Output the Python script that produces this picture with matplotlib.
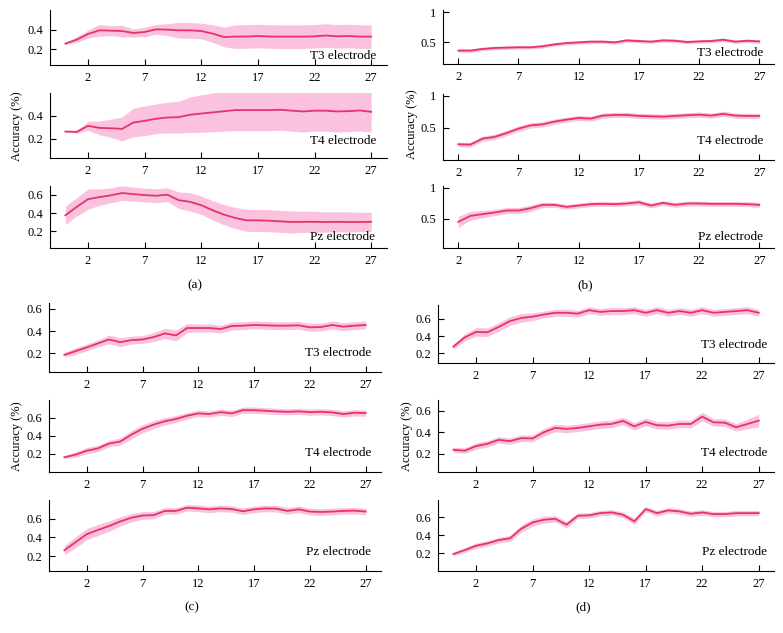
import matplotlib
matplotlib.use("Agg")
import matplotlib.pyplot as plt
import numpy as np

plt.rcParams['font.family'] = ['Liberation Serif', 'DejaVu Serif']

# ---------------- data ----------------
x_full = list(range(0, 28))
x_b = list(range(2, 28))
xtick_vals = [2, 7, 12, 17, 22, 27]
xtick_labels = ['2', '7', '12', '17', '22', '27']
electrodes = ['T3 electrode', 'T4 electrode', 'Pz electrode']
panel_labels = ['(a)', '(b)', '(c)', '(d)']

a_t3_mean = [0.258, 0.298, 0.356, 0.393, 0.390, 0.386, 0.366, 0.376, 0.403, 0.400, 0.393, 0.393, 0.386, 0.360,
             0.325, 0.329, 0.330, 0.335, 0.330, 0.329, 0.329, 0.329, 0.332, 0.340, 0.332, 0.335, 0.329, 0.329]
a_t3_std = [0.01, 0.03, 0.04, 0.06, 0.05, 0.06, 0.04, 0.05, 0.05, 0.06, 0.08, 0.08, 0.08, 0.09,
            0.10, 0.12, 0.12, 0.12, 0.12, 0.12, 0.12, 0.12, 0.12, 0.12, 0.12, 0.12, 0.12, 0.12]
a_t4_mean = [0.262, 0.259, 0.312, 0.294, 0.291, 0.285, 0.341, 0.356, 0.374, 0.385, 0.388, 0.409, 0.420, 0.430,
             0.440, 0.450, 0.450, 0.450, 0.450, 0.453, 0.445, 0.438, 0.445, 0.445, 0.438, 0.441, 0.447, 0.435]
a_t4_std = [0.005, 0.01, 0.04, 0.06, 0.08, 0.105, 0.125, 0.13, 0.13, 0.135, 0.14, 0.155, 0.165, 0.17,
            0.175, 0.18, 0.18, 0.18, 0.18, 0.18, 0.18, 0.18, 0.18, 0.18, 0.18, 0.18, 0.18, 0.175]
a_pz_mean = [0.376, 0.468, 0.552, 0.574, 0.593, 0.618, 0.607, 0.596, 0.589, 0.600, 0.541, 0.523, 0.486, 0.431,
             0.383, 0.347, 0.321, 0.321, 0.317, 0.310, 0.303, 0.305, 0.305, 0.303, 0.305, 0.303, 0.303, 0.305]
a_pz_std = [0.10, 0.10, 0.11, 0.09, 0.08, 0.08, 0.075, 0.075, 0.075, 0.075, 0.09, 0.10, 0.10, 0.105,
            0.11, 0.115, 0.12, 0.12, 0.12, 0.12, 0.12, 0.115, 0.115, 0.11, 0.11, 0.11, 0.105, 0.105]

b_t3_mean = [0.356, 0.356, 0.383, 0.400, 0.406, 0.411, 0.411, 0.428, 0.461, 0.483, 0.494, 0.506, 0.506,
             0.494, 0.528, 0.517, 0.506, 0.528, 0.522, 0.500, 0.511, 0.517, 0.539, 0.506, 0.522, 0.510]
b_t3_std = [0.03, 0.03, 0.03, 0.03, 0.03, 0.03, 0.03, 0.03, 0.03, 0.03, 0.03, 0.03, 0.03,
            0.03, 0.03, 0.03, 0.03, 0.03, 0.03, 0.03, 0.03, 0.03, 0.03, 0.03, 0.03, 0.03]
b_t4_mean = [0.245, 0.240, 0.333, 0.360, 0.420, 0.490, 0.540, 0.557, 0.600, 0.630, 0.656, 0.646, 0.693,
             0.703, 0.703, 0.688, 0.682, 0.677, 0.688, 0.698, 0.708, 0.693, 0.720, 0.693, 0.688, 0.688]
b_t4_std = [0.035, 0.035, 0.04, 0.04, 0.04, 0.04, 0.04, 0.04, 0.04, 0.04, 0.04, 0.04, 0.04,
            0.04, 0.04, 0.04, 0.04, 0.04, 0.04, 0.04, 0.04, 0.04, 0.04, 0.04, 0.04, 0.04]
b_pz_mean = [0.446, 0.543, 0.571, 0.598, 0.630, 0.630, 0.668, 0.723, 0.723, 0.690, 0.712, 0.734, 0.739,
             0.734, 0.745, 0.766, 0.712, 0.755, 0.723, 0.745, 0.745, 0.739, 0.739, 0.739, 0.734, 0.723]
b_pz_std = [0.09, 0.07, 0.06, 0.05, 0.05, 0.05, 0.05, 0.045, 0.04, 0.04, 0.04, 0.04, 0.04,
            0.04, 0.04, 0.04, 0.04, 0.04, 0.04, 0.04, 0.04, 0.04, 0.04, 0.04, 0.04, 0.04]

c_t3_mean = [0.188, 0.221, 0.254, 0.290, 0.325, 0.301, 0.319, 0.325, 0.346, 0.379, 0.361, 0.427, 0.427, 0.427,
             0.418, 0.445, 0.448, 0.454, 0.451, 0.448, 0.448, 0.451, 0.433, 0.436, 0.454, 0.439, 0.448, 0.454]
c_t3_std = [0.02, 0.03, 0.03, 0.03, 0.04, 0.04, 0.035, 0.035, 0.04, 0.045, 0.05, 0.04, 0.035, 0.035,
            0.035, 0.035, 0.035, 0.035, 0.035, 0.035, 0.035, 0.035, 0.035, 0.035, 0.035, 0.035, 0.035, 0.035]
c_t4_mean = [0.164, 0.193, 0.236, 0.262, 0.316, 0.338, 0.415, 0.480, 0.527, 0.564, 0.589, 0.625, 0.651, 0.644,
             0.665, 0.651, 0.687, 0.687, 0.680, 0.673, 0.669, 0.673, 0.665, 0.669, 0.662, 0.644, 0.658, 0.655]
c_t4_std = [0.015, 0.03, 0.035, 0.035, 0.035, 0.04, 0.045, 0.045, 0.045, 0.04, 0.04, 0.035, 0.035, 0.035,
            0.035, 0.035, 0.035, 0.035, 0.035, 0.035, 0.035, 0.035, 0.035, 0.035, 0.035, 0.035, 0.035, 0.035]
c_pz_mean = [0.262, 0.348, 0.434, 0.479, 0.521, 0.570, 0.610, 0.634, 0.638, 0.683, 0.683, 0.717, 0.710, 0.700,
             0.710, 0.703, 0.679, 0.700, 0.710, 0.707, 0.683, 0.700, 0.676, 0.672, 0.676, 0.683, 0.686, 0.676]
c_pz_std = [0.05, 0.06, 0.06, 0.06, 0.055, 0.05, 0.045, 0.04, 0.04, 0.035, 0.035, 0.035, 0.035, 0.035,
            0.035, 0.035, 0.035, 0.035, 0.035, 0.035, 0.035, 0.035, 0.035, 0.035, 0.035, 0.035, 0.035, 0.035]

d_t3_mean = [0.279, 0.385, 0.449, 0.445, 0.506, 0.574, 0.610, 0.625, 0.650, 0.670, 0.670, 0.660, 0.700, 0.680,
             0.690, 0.690, 0.700, 0.670, 0.700, 0.670, 0.690, 0.670, 0.700, 0.670, 0.680, 0.690, 0.700, 0.670]
d_t3_std = [0.03, 0.04, 0.05, 0.05, 0.05, 0.05, 0.05, 0.045, 0.04, 0.04, 0.04, 0.04, 0.04, 0.04,
            0.04, 0.04, 0.04, 0.04, 0.04, 0.04, 0.04, 0.04, 0.04, 0.04, 0.04, 0.04, 0.04, 0.04]
d_t4_mean = [0.237, 0.228, 0.271, 0.292, 0.329, 0.317, 0.345, 0.342, 0.400, 0.440, 0.431, 0.440, 0.455, 0.471,
             0.477, 0.505, 0.455, 0.496, 0.465, 0.462, 0.477, 0.477, 0.545, 0.492, 0.489, 0.446, 0.477, 0.508]
d_t4_std = [0.025, 0.025, 0.03, 0.03, 0.03, 0.03, 0.03, 0.03, 0.035, 0.035, 0.035, 0.035, 0.035, 0.035,
            0.035, 0.035, 0.035, 0.035, 0.035, 0.035, 0.035, 0.035, 0.04, 0.035, 0.035, 0.035, 0.045, 0.06]
d_pz_mean = [0.189, 0.233, 0.281, 0.307, 0.344, 0.363, 0.470, 0.540, 0.570, 0.581, 0.515, 0.615, 0.619, 0.644,
             0.652, 0.626, 0.552, 0.689, 0.644, 0.674, 0.663, 0.637, 0.652, 0.633, 0.633, 0.644, 0.644, 0.644]
d_pz_std = [0.02, 0.025, 0.03, 0.03, 0.03, 0.035, 0.04, 0.04, 0.04, 0.035, 0.035, 0.03, 0.03, 0.03,
            0.03, 0.03, 0.035, 0.03, 0.03, 0.03, 0.03, 0.03, 0.03, 0.03, 0.03, 0.03, 0.03, 0.03]

# ---------------- layout (pixels) ----------------
W, H = 783, 633
LINE = '#e5336b'
FILL = '#fbc2df'

panels = [
    # x data, series, boxes (L, R, T, B), xlim, ylims, yticks, label offsets
    dict(x=x_full,
         series=[(a_t3_mean, a_t3_std), (a_t4_mean, a_t4_std), (a_pz_mean, a_pz_std)],
         boxes=[(50, 387, 10, 65), (50, 387, 93, 158), (50, 387, 186, 248)],
         xlim=(-1.36, 28.4),
         ylims=[(0.04, 0.60), (0.03, 0.60), (0.02, 0.695)],
         yticks=[[0.2, 0.4], [0.2, 0.4], [0.2, 0.4, 0.6]],
         ytl=[['0.2', '0.4'], ['0.2', '0.4'], ['0.2', '0.4', '0.6']],
         lab=[(-11, 6), (-11, 14.5), (-12, 8.5)],
         plabel=(195, 285), ylab=(17, 126)),
    dict(x=x_b,
         series=[(b_t3_mean, b_t3_std), (b_t4_mean, b_t4_std), (b_pz_mean, b_pz_std)],
         boxes=[(443, 774, 10, 64), (443, 774, 94, 160), (443, 774, 186, 248)],
         xlim=(0.73, 28.22),
         ylims=[(0.13, 1.04), (0.0, 1.03), (0.02, 1.03)],
         yticks=[[0.5, 1.0], [0.5, 1.0], [0.5, 1.0]],
         ytl=[['0.5', '1'], ['0.5', '1'], ['0.5', '1']],
         lab=[(-11, 8), (-11, 16), (-11, 8.5)],
         plabel=(585, 285), ylab=(412, 124)),
    dict(x=x_full,
         series=[(c_t3_mean, c_t3_std), (c_t4_mean, c_t4_std), (c_pz_mean, c_pz_std)],
         boxes=[(49, 381, 303, 372), (49, 381, 400, 472), (49, 381, 500, 571)],
         xlim=(-1.38, 28.37),
         ylims=[(0.035, 0.65), (0.0, 0.80), (0.04, 0.80)],
         yticks=[[0.2, 0.4, 0.6]] * 3,
         ytl=[['0.2', '0.4', '0.6']] * 3,
         lab=[(-9.5, 15.5), (-9.5, 15.5), (-10, 16)],
         plabel=(192, 607), ylab=(17, 436)),
    dict(x=x_full,
         series=[(d_t3_mean, d_t3_std), (d_t4_mean, d_t4_std), (d_pz_mean, d_pz_std)],
         boxes=[(438, 774, 305, 363), (438, 774, 400, 472), (438, 774, 500, 571)],
         xlim=(-1.36, 28.35),
         ylims=[(0.09, 0.76), (0.03, 0.70), (0.0, 0.79)],
         yticks=[[0.2, 0.4, 0.6]] * 3,
         ytl=[['0.2', '0.4', '0.6']] * 3,
         lab=[(-7, 15), (-7, 15.5), (-7, 16)],
         plabel=(583, 607), ylab=(407, 436)),
]

fig = plt.figure(figsize=(W / 100, H / 100), dpi=100)

for p, plab in zip(panels, panel_labels):
    xs = np.array(p['x'])
    for k in range(3):
        L, R, T, B = p['boxes'][k]
        ax = fig.add_axes([L / W, 1 - B / H, (R - L) / W, (B - T) / H])
        m = np.array(p['series'][k][0])
        s = np.array(p['series'][k][1])
        ax.fill_between(xs, m - s, m + s, color=FILL, lw=0, zorder=1)
        ax.plot(xs, m, color=LINE, lw=1.3, zorder=2)
        ax.set_xlim(*p['xlim'])
        ax.set_ylim(*p['ylims'][k])
        ax.set_xticks(xtick_vals)
        ax.set_xticklabels(xtick_labels)
        ax.set_yticks(p['yticks'][k])
        ax.set_yticklabels(p['ytl'][k])
        for side in ('top', 'right'):
            ax.spines[side].set_visible(False)
        for side in ('left', 'bottom'):
            ax.spines[side].set_linewidth(0.8)
        ax.tick_params(direction='in', length=4, width=0.8, labelsize=9, pad=5, colors='black')
        ax.patch.set_visible(False)
        dx, dy = p['lab'][k]
        ax.annotate(electrodes[k], xy=(1, 0), xycoords='axes fraction',
                    xytext=(dx, dy), textcoords='offset pixels',
                    ha='right', va='baseline', fontsize=9.5, zorder=3)
    px, py = p['plabel']
    fig.text(px / W, 1 - py / H, plab, ha='center', va='center', fontsize=9.5)
    lx, ly = p['ylab']
    fig.text(lx / W, 1 - ly / H, 'Accuracy (%)', rotation=90, ha='center', va='center', fontsize=9)

fig.savefig('out.png', dpi=100)
